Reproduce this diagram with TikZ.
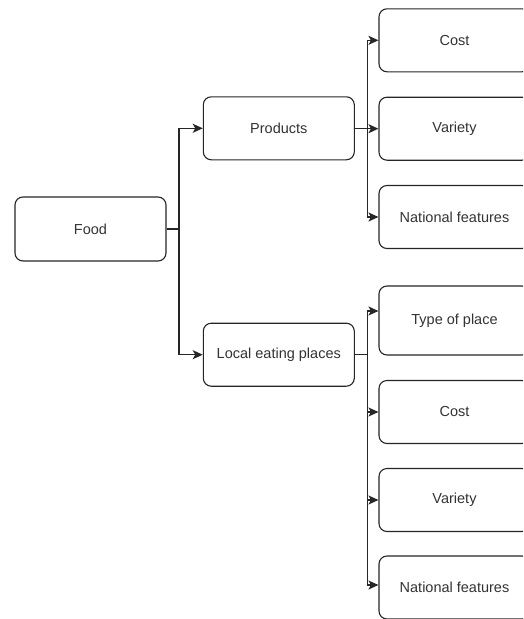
\documentclass[tikz,border=0pt]{standalone}
\usepackage{fontspec}
\setmainfont{Liberation Sans}
\usetikzlibrary{arrows.meta}
\tikzset{
  topic/.style={draw=black!85, line width=1.1pt, rounded corners=8pt, minimum width=151pt, minimum height=63pt, text=black!80, font=\fontsize{14.5}{16}\selectfont},
  link/.style={draw=black!85, line width=1.5pt, -{Stealth[length=10pt, width=9pt, inset=2.5pt]}}
}
\begin{document}
\begin{tikzpicture}[x=1pt, y=-1pt]
\clip (0, 0) rectangle (523, 619);
\fill[white] (0, 0) rectangle (523, 619);
% root and the two groups
\node[topic, minimum height=64pt] (food) at (90.5, 229) {Food};
\node[topic] (prod) at (278.8, 128.3) {Products};
\node[topic] (local) at (278.8, 354.7) {Local eating places};
% products
\node[topic] (pcost) at (454.5, 40.3) {Cost};
\node[topic] (pvar) at (454.5, 128.7) {Variety};
\node[topic] (pnat) at (454.5, 217) {National features};
% eating places
\node[topic, minimum height=69pt] (ltype) at (454.5, 320.5) {Type of place};
\node[topic] (lcost) at (454.5, 412) {Cost};
\node[topic] (lvar) at (454.5, 500) {Variety};
\node[topic] (lnat) at (454.5, 587.5) {National features};
\draw[link] (food.east) -- ++(12.3, 0) |- (prod.west);
\draw[link] (food.east) -- ++(12.3, 0) |- (local.west);
\draw[link] (prod.east) -- ++(12.8, 0) |- (pcost.west);
\draw[link] (prod.east) -- ++(12.8, 0) |- (pvar.west);
\draw[link] (prod.east) -- ++(12.8, 0) |- (pnat.west);
\draw[link] (local.east) -- ++(12.8, 0) |- ([yshift=9.5pt]ltype.west);
\draw[link] (local.east) -- ++(12.8, 0) |- (lcost.west);
\draw[link] (local.east) -- ++(12.8, 0) |- (lvar.west);
\draw[link] (local.east) -- ++(12.8, 0) |- ([yshift=2.5pt]lnat.west);
\end{tikzpicture}
\end{document}
